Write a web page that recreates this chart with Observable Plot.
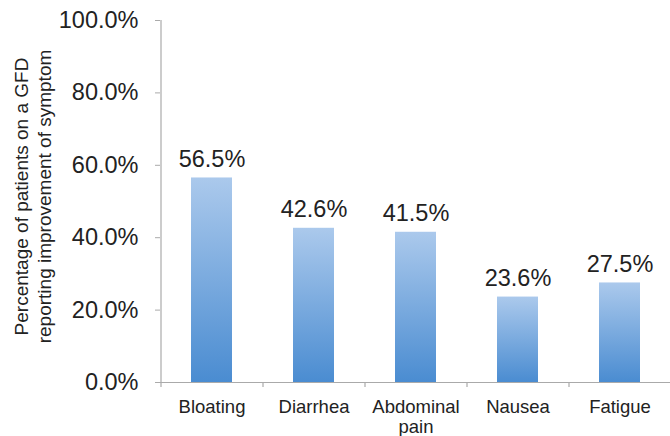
<!DOCTYPE html>
<html>
<head>
<meta charset="utf-8">
<script src="https://cdn.jsdelivr.net/npm/d3@7"></script>
<script src="https://cdn.jsdelivr.net/npm/@observablehq/plot@0.6"></script>
<style>
  html, body { margin: 0; padding: 0; background: #fff; }
</style>
</head>
<body>
<div id="chart"></div>
<script>
const categories = ["Bloating", "Diarrhea", "Abdominal pain", "Nausea", "Fatigue"];
const tickLabels = ["Bloating", "Diarrhea", "Abdominal\npain", "Nausea", "Fatigue"];
const values = [56.5, 42.6, 41.5, 23.6, 27.5];
const yTicks = [0, 20, 40, 60, 80, 100];
const yTitle = "Percentage of patients on a GFD\nreporting improvement of symptom";

const data = categories.map((c, i) => ({cat: c, value: values[i]}));

const axisColor = "#aaaaaa";
const textColor = "#222222";

const gradientDefs = () => {
  const defs = d3.create("svg:defs");
  const g = defs.append("linearGradient")
    .attr("id", "barGrad").attr("x1", 0).attr("y1", 0).attr("x2", 0).attr("y2", 1);
  g.append("stop").attr("offset", "0%").attr("stop-color", "#abc9ec");
  g.append("stop").attr("offset", "100%").attr("stop-color", "#4a8cd1");
  return defs.node();
};

const chart = Plot.plot({
  width: 670,
  height: 436,
  marginLeft: 160,
  marginRight: 0,
  marginTop: 20,
  marginBottom: 54,
  style: {fontFamily: "'Liberation Sans', Arial, sans-serif", color: textColor, background: "#fff"},
  x: {domain: categories, paddingInner: 0.6, paddingOuter: 0.3, axis: null},
  y: {domain: [0, 100], axis: null},
  marks: [
    gradientDefs,
    Plot.barY(data, {x: "cat", y: "value", fill: "url(#barGrad)"}),
    // y axis line
    Plot.ruleX([categories[0]], {dx: -51, y1: 0, y2: 100, stroke: axisColor, strokeWidth: 1.2}),
    // baseline
    Plot.ruleY([0], {stroke: axisColor, strokeWidth: 1.2, insetLeft: -5}),
    // category boundary ticks
    Plot.ruleX(categories, {dx: -51, y1: 0, y2: 0, insetBottom: -5, stroke: axisColor, strokeWidth: 1.2}),
    Plot.axisY({
      ticks: yTicks, tickSize: 5, tickPadding: 17, stroke: axisColor, label: null,
      tickFormat: d => d.toFixed(1) + "%", fontSize: 23.5, fill: textColor
    }),
    Plot.axisX({
      tickSize: 0, tickPadding: 16, fontSize: 18.5, lineHeight: 1.08, fill: textColor,
      tickFormat: d => tickLabels[categories.indexOf(d)], label: null
    }),
    Plot.text(data, {
      x: "cat", y: "value", text: d => d.value.toFixed(1) + "%",
      lineAnchor: "bottom", dy: -11, fontSize: 23.5, fill: textColor
    }),
    Plot.text([yTitle], {
      frameAnchor: "left", rotate: -90, dx: -128, dy: -5, textAnchor: "middle",
      fontSize: 19, lineHeight: 1.2, fill: textColor
    })
  ]
});

document.getElementById("chart").appendChild(chart);
</script>
</body>
</html>
